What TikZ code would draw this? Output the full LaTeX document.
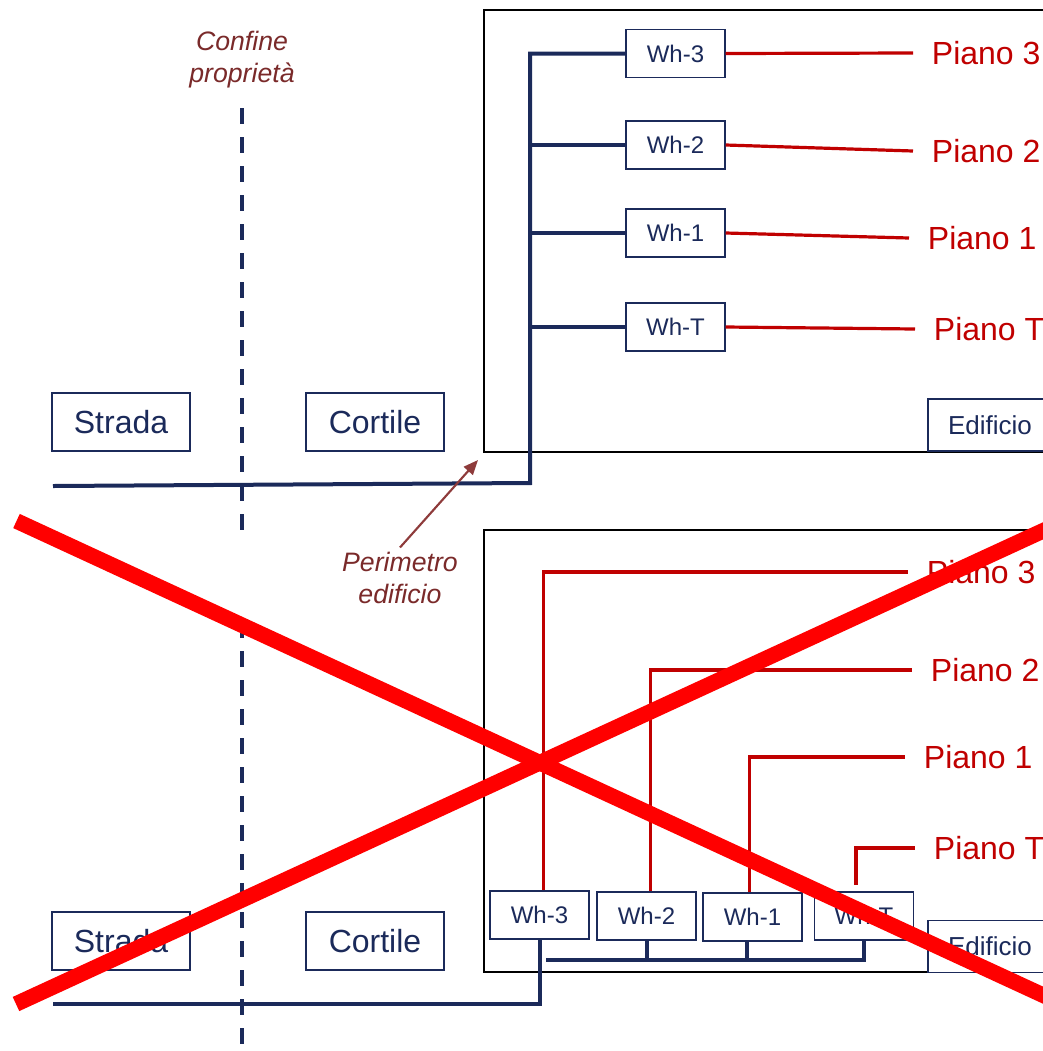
\documentclass[tikz,border=0pt]{standalone}
\usepackage{fontspec}
\setmainfont{Liberation Sans}
\usepackage{tikz}
\usetikzlibrary{arrows.meta, positioning, calc}
\usepackage{xcolor}
\definecolor{blunotte}{HTML}{1B2A5A}
\definecolor{rossoscuro}{HTML}{C00000}
\definecolor{bruno}{HTML}{7A2A2A}
\definecolor{frecciabruna}{HTML}{8E3B3B}
\definecolor{rossox}{HTML}{FF0000}

\begin{document}
\begin{tikzpicture}[x=0.75pt, y=-0.75pt,
        zona/.style={draw=blunotte, line width=1.1pt, rectangle, minimum width=103.5pt, minimum height=43.5pt, text=blunotte, font=\fontsize{24}{28}\selectfont},
        contatore/.style={draw=blunotte, line width=1.1pt, rectangle, fill=white, minimum width=74.25pt, minimum height=36pt, text=blunotte, font=\fontsize{18}{21}\selectfont},
        edif/.style={draw=blunotte, line width=1.1pt, rectangle, fill=white, minimum width=93pt, minimum height=39pt, text=blunotte, font=\fontsize{19.5}{23}\selectfont},
        muro/.style={draw=black, line width=1.5pt, rectangle, minimum width=432pt, minimum height=331.5pt},
        piano/.style={anchor=west, inner xsep=14pt, text=rossoscuro, font=\fontsize{24}{28}\selectfont},
        nota/.style={align=center, text=bruno, font=\fontsize{20}{24}\selectfont\itshape},
        bus/.style={draw=blunotte, line width=3pt},
        rosso/.style={draw=rossoscuro, line width=2.4pt},
        confine/.style={draw=blunotte, line width=2.8pt, dash pattern=on 12pt off 9.75pt},
        freccia/.style={-{Triangle[length=11pt,width=9pt]}, draw=frecciabruna, line width=1.6pt},
        croce/.style={draw=rossox, line width=11.7pt}
    ]
        \useasboundingbox (0,0) rectangle (1043,1051);

        % Schema corretto (sopra)
        \node[muro] (casaA) at (772,231) {};
        \node[zona] (stradaA) at (121,422) {Strada};
        \node[zona] (cortileA) at (375,422) {Cortile};
        \node[edif] (edifA) at (990,425) {Edificio};
        \node[nota] (confine) at (242,60) {Confine\\proprietà};

        \node[contatore] (wh3a) at (675.5,53.5) {Wh-3};
        \node[contatore] (wh2a) at (675.5,145) {Wh-2};
        \node[contatore] (wh1a) at (675.5,233) {Wh-1};
        \node[contatore] (whta) at (675.5,327) {Wh-T};

        \node[piano] (p3a) at (913,53) {Piano 3};
        \node[piano] (p2a) at (913,151) {Piano 2};
        \node[piano] (p1a) at (909,238) {Piano 1};
        \node[piano] (pta) at (915,329) {Piano T.};

        \coordinate (ingA) at (53,486);
        \coordinate (dorsA) at (530,483);

        \draw[confine] (242,108) -- (242,533);

        % Montante comune e derivazioni
        \draw[bus] (ingA) -- (dorsA) |- (wh3a.west);
        \draw[bus] (dorsA |- wh2a.west) -- (wh2a.west);
        \draw[bus] (dorsA |- wh1a.west) -- (wh1a.west);
        \draw[bus] (dorsA |- whta.west) -- (whta.west);

        \draw[rosso] (wh3a.east) -- (p3a.west);
        \draw[rosso] (wh2a.east) -- (p2a.west);
        \draw[rosso] (wh1a.east) -- (p1a.west);
        \draw[rosso] (whta.east) -- (pta.west);

        % Perimetro
        \node[nota] (perim) at (400,578) {Perimetro\\edificio};
        \coordinate (angA) at (478,460);
        \draw[freccia] (perim.north) -- (angA);

        % Schema errato (sotto)
        \node[muro] (casaB) at (772,750.5) {};
        \node[zona] (stradaB) at (121,941) {Strada};
        \node[zona] (cortileB) at (375,941) {Cortile};
        \node[edif] (edifB) at (990,946.5) {Edificio};

        \node[contatore] (wh3b) at (539.5,915) {Wh-3};
        \node[contatore] (wh2b) at (646.5,916) {Wh-2};
        \node[contatore] (wh1b) at (752.5,917) {Wh-1};
        \node[contatore] (whtb) at (864,916) {Wh-T};

        \node[piano] (p3b) at (908,572) {Piano 3};
        \node[piano] (p2b) at (912,670) {Piano 2};
        \node[piano] (p1b) at (905,757) {Piano 1};
        \node[piano] (ptb) at (915,848) {Piano T.};

        \draw[confine] (242,622) -- (242,1051);

        \draw[rosso] ([xshift=3pt]wh3b.north) |- (p3b.west);
        \draw[rosso] ([xshift=3pt]wh2b.north) |- (p2b.west);
        \draw[rosso] ([xshift=-2pt]wh1b.north) |- (p1b.west);
        \draw[rosso] ([xshift=-6pt,yshift=5pt]whtb.north) |- (ptb.west);

        \coordinate (busS) at (546,960);
        \coordinate (busE) at (866,960);
        \coordinate (ingB) at (53,1004);
        \draw[bus] (busS) -- (busE);
        \draw[bus] (wh2b.south) -- (wh2b.south |- busS);
        \draw[bus] ([xshift=-4.5pt]wh1b.south) -- ([xshift=-4.5pt]wh1b.south |- busS);
        \draw[bus] (whtb.south) -- (whtb.south |- busE);
        \draw[bus] (wh3b.south) |- (ingB);

        % Croce
        \draw[croce] (16.5,521) -- (1060,1003);
        \draw[croce] (16,1004) -- (1060,523);
    \end{tikzpicture}
\end{document}
